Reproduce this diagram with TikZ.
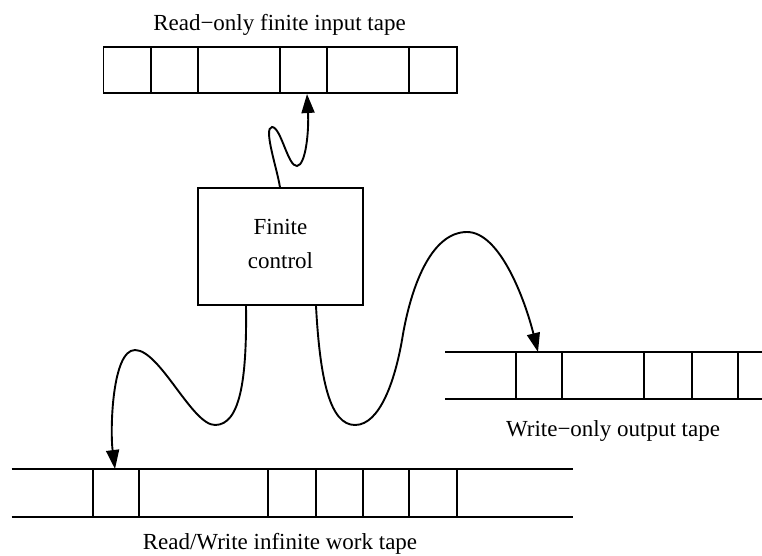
\documentclass[tikz,border=0pt]{standalone}
\usepackage{fontspec}
\setmainfont{Liberation Serif}
\usetikzlibrary{arrows.meta}
\begin{document}
\begin{tikzpicture}[x=1pt,y=-1pt,line width=1.9pt,
  lbl/.style={anchor=base,inner sep=0pt,font=\fontsize{23}{28}\selectfont},
  ctrlbox/.style={draw,inner sep=0pt,minimum width=164.4pt,minimum height=116.7pt,
    align=center,text depth=5pt,font=\fontsize{23}{34}\selectfont},
  wire/.style={line width=1.9pt,-{Triangle[length=19pt,width=13pt]}}]
\useasboundingbox (0,0) rectangle (762,555);

% input tape
\draw (103.5,47) rectangle (456.7,93);
\foreach \x in {151,198.3,280,327.3,409.3} \draw (\x,47) -- (\x,93);
\node[lbl] (inlbl) at (279.5,30) {Read−only finite input tape};

% output tape
\draw (445,352.3) -- (762,352.3) (445,399.3) -- (762,399.3);
\foreach \x in {515.7,562.3,644,691.7,738.3} \draw (\x,352.3) -- (\x,399.3);
\node[lbl] (outlbl) at (613,436.7) {Write−only output tape};

% work tape
\draw (11.7,469.3) -- (573.3,469.3) (11.7,516.7) -- (573.3,516.7);
\foreach \x in {92.7,139.3,268.3,315.7,362.7,409.3,456.7} \draw (\x,469.3) -- (\x,516.7);
\node[lbl] (worklbl) at (280,549.3) {Read/Write infinite work tape};

% finite control
\node[ctrlbox] (fc) at (280.5,246.7) {Finite\\control};

% head positions
\coordinate (inhead) at (307,94);
\coordinate (workhead) at (115,469);
\coordinate (outhead) at (538,352);

% connectors
\draw[wire] (fc.north -| 280,0) .. controls (277,168) and (263,128) .. (272,127)
  .. controls (281,127) and (288,167) .. (297,166)
  .. controls (306,165) and (309,130) .. (inhead);
\draw[wire] (fc.south -| 246,0) .. controls (247,380) and (240,425) .. (215,425)
  .. controls (192,425) and (160,350) .. (135,350)
  .. controls (112,350) and (110,430) .. (workhead);
\draw[wire] (fc.south -| 316,0) .. controls (320,380) and (330,425) .. (355,425)
  .. controls (380,425) and (395,380) .. (402,340)
  .. controls (410,290) and (430,232) .. (467,232)
  .. controls (500,232) and (525,300) .. (outhead);
\end{tikzpicture}
\end{document}
